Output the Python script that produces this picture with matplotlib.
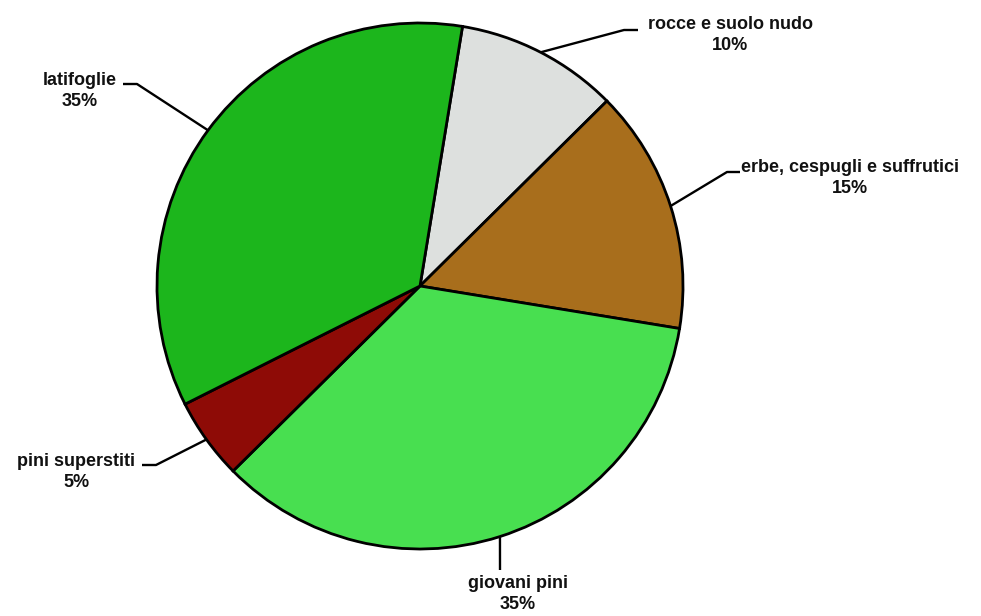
import numpy as np
import matplotlib.pyplot as plt

# data
labels = ["rocce e suolo nudo", "erbe, cespugli e suffrutici", "giovani pini",
          "pini superstiti", "latifoglie"]
shares = [10, 15, 35, 5, 35]
colors = ["#dde0de", "#a86e1c", "#48df50", "#8e0b06", "#1cb61c"]

# layout (pixels in the 981x616 image)
W, H = 981, 616
cx, cy, R = 420, 286, 263
# elbow of the leader line, end of the horizontal bit, text centre
elbows = [(624, 30), (727, 172), (500, 568), (156, 465), (137, 84)]
ends = [(638, 30), (740, 172), (500, 570), (142, 465), (123, 84)]
text_xy = [(730, 35), (850, 178), (518, 594), (76, 472), (80, 91)]


def px(p):
    return ((p[0] - cx) / R, (cy - p[1]) / R)


fig = plt.figure(figsize=(W / 100, H / 100), dpi=100)
ax = fig.add_axes([0, 0, 1, 1])
wedges, _ = ax.pie(shares, colors=colors, startangle=90 - 9.3, counterclock=False,
                   radius=1.0, center=(0, 0),
                   wedgeprops=dict(edgecolor="black", linewidth=2.0))

for w, lab, val, el, en, txy in zip(wedges, labels, shares, elbows, ends, text_xy):
    mid = np.deg2rad((w.theta1 + w.theta2) / 2)
    a = (np.cos(mid), np.sin(mid))
    e1 = px(el)
    e2 = px(en)
    ax.plot([a[0], e1[0], e2[0]], [a[1], e1[1], e2[1]], color="black", lw=1.7,
            solid_capstyle="butt", zorder=0)
    t = px(txy)
    ax.text(t[0], t[1], f"{lab}\n{val}%", ha="center", va="center",
            multialignment="center", fontsize=13, fontweight="bold",
            family="Liberation Sans", linespacing=1.3, color="#111111")

ax.set_xlim(-cx / R, (W - cx) / R)
ax.set_ylim(-(H - cy) / R, cy / R)
ax.set_aspect("auto")
ax.axis("off")

fig.savefig("out.png", dpi=100)
